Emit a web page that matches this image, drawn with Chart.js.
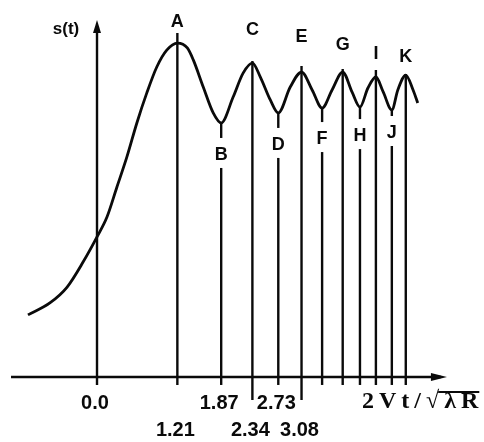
<!DOCTYPE html>
<html>
<head>
<meta charset="utf-8">
<script src="https://cdn.jsdelivr.net/npm/chart.js@4.4.1/dist/chart.umd.min.js"></script>
<style>
  html, body { margin: 0; padding: 0; background: #fff; }
  canvas { display: block; }
</style>
</head>
<body>
<canvas id="chart" width="484" height="442"></canvas>
<script>
// curve s(t), x in units of 2Vt/sqrt(lambda R)
const curveX = [-1.04, -0.71, -0.45, -0.21, 0.00, 0.15, 0.30, 0.45, 0.60, 0.75, 0.90, 1.05,
                1.21, 1.36, 1.45, 1.60, 1.75, 1.87, 2.05, 2.20, 2.34, 2.46, 2.61, 2.73,
                2.91, 3.08, 3.24, 3.39, 3.54, 3.70, 3.84, 3.96, 4.08, 4.20, 4.31, 4.44,
                4.53, 4.65, 4.76, 4.83];
const curveS = [0.254, 0.303, 0.368, 0.470, 0.573, 0.654, 0.777, 0.900, 1.039, 1.162, 1.268, 1.337,
                1.366, 1.346, 1.297, 1.186, 1.080, 1.039, 1.145, 1.243, 1.284, 1.227, 1.133, 1.080,
                1.186, 1.247, 1.174, 1.100, 1.174, 1.247, 1.166, 1.104, 1.182, 1.227, 1.166, 1.092,
                1.174, 1.235, 1.174, 1.121];

// maxima and minima
const peakNames = ['A', 'C', 'E', 'G', 'I', 'K'];
const peakX = [1.21, 2.34, 3.08, 3.70, 4.20, 4.65];
const troughNames = ['B', 'D', 'F', 'H', 'J'];
const troughX = [1.87, 2.73, 3.39, 3.96, 4.44];

// tick labels under the axis (row 0 = upper, row 1 = lower)
const tickValues = [0.0, 1.21, 1.87, 2.34, 2.73, 3.08];
const tickLabels = ['0.0', '1.21', '1.87', '2.34', '2.73', '3.08'];
const tickRows = [0, 1, 0, 1, 0, 1];

const ink = '#0a0a0a';

function sAt(v) {
    const i = curveX.indexOf(v);
    return curveS[i];
}

function seg(ctx, x1, y1, x2, y2) {
    ctx.beginPath();
    ctx.moveTo(x1, y1);
    ctx.lineTo(x2, y2);
    ctx.stroke();
}

const annotations = {
    id: 'annotations',
    afterDatasetsDraw(chart) {
        const ctx = chart.ctx;
        const x = chart.scales.x;
        const y = chart.scales.y;
        const x0 = x.getPixelForValue(0);
        const y0 = y.getPixelForValue(0);

        ctx.save();
        ctx.strokeStyle = ink;
        ctx.fillStyle = ink;
        ctx.lineWidth = 2.4;

        // x axis with arrow
        const xEnd = x.getPixelForValue(5.27);
        seg(ctx, x.getPixelForValue(-1.295), y0, xEnd - 6, y0);
        ctx.beginPath();
        ctx.moveTo(xEnd, y0);
        ctx.lineTo(xEnd - 16, y0 - 4);
        ctx.lineTo(xEnd - 16, y0 + 4);
        ctx.closePath();
        ctx.fill();

        // y axis with arrow
        const yTop = y.getPixelForValue(1.46);
        seg(ctx, x0, y0 + 8, x0, yTop + 6);
        ctx.beginPath();
        ctx.moveTo(x0, yTop);
        ctx.lineTo(x0 - 4, yTop + 13);
        ctx.lineTo(x0 + 4, yTop + 13);
        ctx.closePath();
        ctx.fill();

        ctx.textAlign = 'center';
        ctx.textBaseline = 'middle';
        ctx.font = 'bold 18px "Liberation Sans", Arial, sans-serif';

        // peak lines and labels
        const lineAbove = [10, 2, 6, 3, 7, 1];
        const labelAbove = [21, 33, 35, 27, 23, 18];
        peakX.forEach((v, i) => {
            const px = x.getPixelForValue(v);
            const py = y.getPixelForValue(sAt(v));
            const name = peakNames[i];
            const bottom = (name === 'C' || name === 'E') ? y0 + 23 : y0 + 8;
            seg(ctx, px, py - lineAbove[i], px, bottom);
            ctx.fillText(name, px, py - labelAbove[i]);
        });

        // trough lines, broken around their labels
        const labelBelow = [32, 32, 31, 29, 23];
        troughX.forEach((v, i) => {
            const px = x.getPixelForValue(v);
            const py = y.getPixelForValue(sAt(v));
            const ly = py + labelBelow[i];
            seg(ctx, px, py, px, ly - 17);
            ctx.fillText(troughNames[i], px, ly);
            seg(ctx, px, ly + 13, px, y0 + 8);
        });

        // tick labels
        ctx.font = 'bold 20px "Liberation Sans", Arial, sans-serif';
        tickValues.forEach((v, i) => {
            const px = x.getPixelForValue(v);
            ctx.fillText(tickLabels[i], px - 2, y0 + (tickRows[i] ? 54 : 27));
        });

        // axis names
        ctx.font = 'bold 17px "Liberation Sans", Arial, sans-serif';
        ctx.fillText('s(t)', x0 - 31, yTop + 9);

        ctx.textAlign = 'left';
        ctx.font = 'bold 24px "Liberation Serif", "Times New Roman", serif';
        ctx.letterSpacing = '5px';
        const tx = 362, ty = y0 + 25;
        ctx.fillText('2Vt/\u221A\u03BBR', tx, ty);
        const wPre = ctx.measureText('2Vt/\u221A').width;
        const wAll = ctx.measureText('2Vt/\u221A\u03BBR').width;
        ctx.lineWidth = 2;
        seg(ctx, tx + wPre - 6, ty - 10, tx + wAll - 4, ty - 10);

        ctx.restore();
    }
};

new Chart(document.getElementById('chart'), {
    type: 'line',
    data: {
        datasets: [{
            data: curveX.map((v, i) => ({ x: v, y: curveS[i] })),
            borderColor: ink,
            borderWidth: 2.8,
            pointRadius: 0,
            fill: false,
            cubicInterpolationMode: 'monotone'
        }]
    },
    options: {
        responsive: false,
        animation: false,
        layout: { padding: 0 },
        plugins: {
            legend: { display: false },
            tooltip: { enabled: false }
        },
        scales: {
            x: { type: 'linear', min: -1.461, max: 5.828, display: false },
            y: { min: -0.266, max: 1.542, display: false }
        }
    },
    plugins: [annotations]
});
</script>
</body>
</html>
